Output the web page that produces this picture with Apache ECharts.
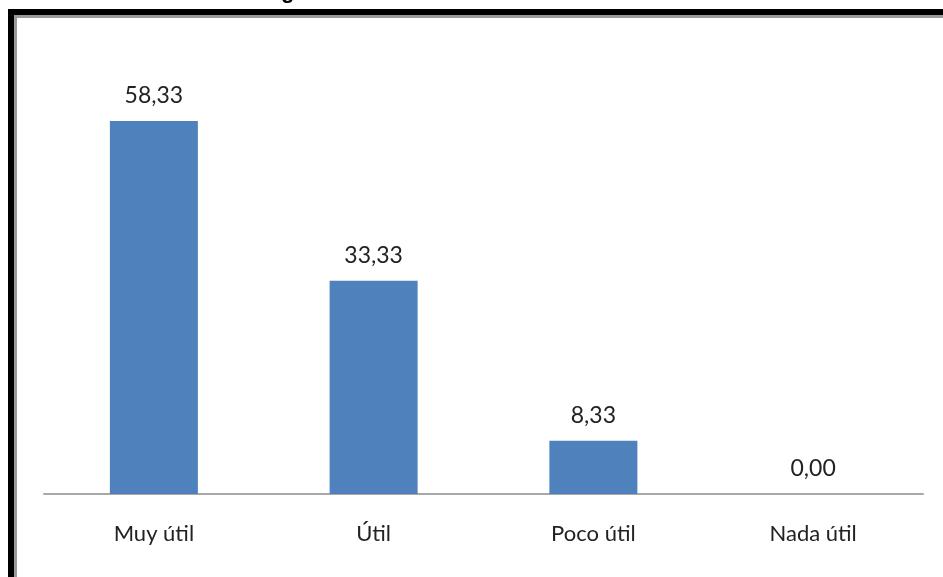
<!DOCTYPE html>
<html>
<head>
<meta charset="utf-8">
<style>
  html, body { margin: 0; padding: 0; background: #ffffff; }
  #chart { width: 943px; height: 577px; }
</style>
<script src="https://cdn.jsdelivr.net/npm/echarts@6/dist/echarts.min.js"></script>
</head>
<body>
<div id="chart"></div>
<script>
// Survey results: perceived usefulness (%)
const categories = ['Muy útil', 'Útil', 'Poco útil', 'Nada útil'];
const percentages = [58.33, 33.33, 8.33, 0.00];

const chart = echarts.init(document.getElementById('chart'), null, { renderer: 'canvas' });

const fontFamily = 'Lato, "Open Sans", sans-serif';

chart.setOption({
  animation: false,
  backgroundColor: '#ffffff',
  grid: { left: 44, right: 20, top: 46.3, bottom: 83 },
  xAxis: {
    type: 'category',
    data: categories,
    axisLine: { lineStyle: { color: '#a8a8a8', width: 2 } },
    axisTick: { show: false },
    axisLabel: {
      color: '#222222',
      fontFamily: fontFamily,
      fontSize: 22,
      margin: 29
    }
  },
  yAxis: {
    type: 'value',
    min: 0,
    max: 70,
    show: false,
    splitLine: { show: false }
  },
  series: [{
    type: 'bar',
    data: percentages,
    barWidth: 88,
    itemStyle: { color: '#4f81bd' },
    label: {
      show: true,
      position: 'top',
      distance: 14,
      color: '#222222',
      fontFamily: fontFamily,
      fontSize: 23,
      formatter: p => p.value.toFixed(2).replace('.', ',')
    }
  }],
  graphic: [
    // double frame: thick black outer line, thin grey inner line
    {
      type: 'rect',
      shape: { x: 11, y: 12, width: 1000, height: 700 },
      style: { fill: 'none', stroke: '#000000', lineWidth: 6 },
      silent: true
    },
    {
      type: 'rect',
      shape: { x: 15.5, y: 16.5, width: 1000, height: 700 },
      style: { fill: 'none', stroke: '#9a9a9a', lineWidth: 3 },
      silent: true
    },
    // tail of the title text above the frame
    {
      type: 'text',
      left: 281,
      top: -19,
      style: {
        text: 'g',
        fill: '#000000',
        font: 'bold 22px "Liberation Sans", Arial, sans-serif'
      },
      silent: true
    }
  ]
});
</script>
</body>
</html>
